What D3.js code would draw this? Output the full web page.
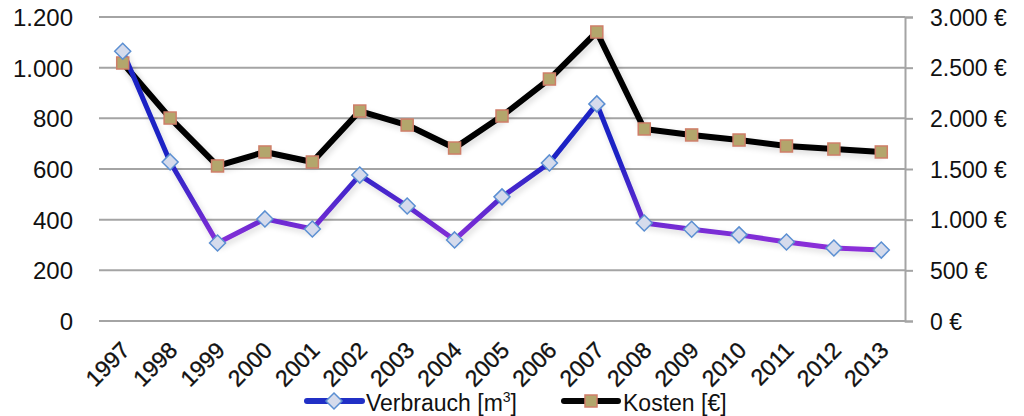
<!DOCTYPE html>
<head>
<meta charset="utf-8">
<style>
body { margin: 0; background: #fff; }
text { font-family: "Liberation Sans", Arial, sans-serif; fill: #111; }
.grid line { stroke: #a4a4a4; stroke-width: 2px; }
.xl text { stroke: #111; stroke-width: 0.35px; }
</style>
</head>
<body>
<script src="https://cdn.jsdelivr.net/npm/d3@7"></script>
<script>
var years = ["1997","1998","1999","2000","2001","2002","2003","2004","2005","2006","2007","2008","2009","2010","2011","2012","2013"];
var verbrauch = [1065, 628, 308, 403, 363, 576, 454, 320, 490, 624, 857, 387, 362, 340, 312, 288, 280];
var kosten = [2546, 2003, 1530, 1668, 1569, 2072, 1934, 1707, 2023, 2388, 2852, 1895, 1836, 1786, 1727, 1697, 1668];
var leftTicks = [0, 200, 400, 600, 800, 1000, 1200];
var rightTicks = [0, 500, 1000, 1500, 2000, 2500, 3000];

var width = 1024, height = 416;
var plotL = 99, plotR = 905, plotT = 17, plotB = 321;

var svg = d3.select("body").append("svg")
    .attr("width", width).attr("height", height);

var defs = svg.append("defs");
var x = d3.scaleBand().domain(years).range([plotL, plotR]);
var yL = d3.scaleLinear().domain([0, 1200]).range([plotB, plotT]);
var yR = d3.scaleLinear().domain([0, 3000]).range([plotB, plotT]);

var grad = defs.append("linearGradient").attr("id", "blueGrad")
    .attr("gradientUnits", "userSpaceOnUse")
    .attr("x1", 0).attr("x2", 0).attr("y1", yL(650)).attr("y2", yL(300));
grad.append("stop").attr("offset", "0%").attr("stop-color", "#1c22c4");
grad.append("stop").attr("offset", "100%").attr("stop-color", "#8a2fd8");

var shadow = defs.append("filter").attr("id", "shadow")
    .attr("x", "-5%").attr("y", "-20%").attr("width", "110%").attr("height", "140%");
shadow.append("feGaussianBlur").attr("in", "SourceAlpha").attr("stdDeviation", 3).attr("result", "b");
shadow.append("feOffset").attr("in", "b").attr("dx", 2).attr("dy", 3).attr("result", "o");
shadow.append("feComponentTransfer").attr("in", "o").attr("result", "s")
  .append("feFuncA").attr("type", "linear").attr("slope", 0.15);
var merge = shadow.append("feMerge");
merge.append("feMergeNode").attr("in", "s");
merge.append("feMergeNode").attr("in", "SourceGraphic");

// gridlines
svg.append("g").attr("class", "grid")
  .selectAll("line").data(leftTicks).enter().append("line")
  .attr("x1", plotL).attr("x2", plotR)
  .attr("y1", d => yL(d)).attr("y2", d => yL(d));

// right axis
var axR = svg.append("g").attr("transform", "translate(" + plotR + ",0)")
  .call(d3.axisRight(yR).tickValues(rightTicks).tickSize(8).tickPadding(17)
    .tickFormat(d => d3.format(",")(d).replace(/,/g, ".") + " €"));
axR.select(".domain").attr("stroke", "#a4a4a4").attr("stroke-width", 2);
axR.selectAll(".tick line").attr("stroke", "#a4a4a4").attr("stroke-width", 2);
axR.selectAll("text").style("font-size", "23px").attr("fill", "#111").attr("dy", "0.35em");

// left axis labels
var axL = svg.append("g").attr("transform", "translate(" + plotL + ",0)")
  .call(d3.axisLeft(yL).tickValues(leftTicks).tickSize(0).tickPadding(26)
    .tickFormat(d => d3.format(",")(d).replace(/,/g, ".")));
axL.select(".domain").remove();
axL.selectAll("text").style("font-size", "24px").attr("fill", "#111").attr("dy", "0.35em");

// x labels
var axX = svg.append("g").attr("class", "xl").attr("transform", "translate(0," + plotB + ")")
  .call(d3.axisBottom(x).tickSize(0));
axX.select(".domain").remove();
axX.selectAll("text").style("font-size", "23px").attr("fill", "#111")
  .attr("text-anchor", "end")
  .attr("transform", "translate(3,25) rotate(-45)")
  .attr("dy", "0.35em").attr("y", 0);

var cx = d => x(d) + x.bandwidth() / 2;

// Kosten line
var lineK = d3.line().x((d, i) => cx(years[i])).y(d => yR(d));
svg.append("path").datum(kosten).attr("d", lineK)
  .attr("fill", "none").attr("stroke", "#050505").attr("stroke-width", 6)
  .attr("stroke-linejoin", "round").attr("filter", "url(#shadow)");

// Verbrauch line
var lineV = d3.line().x((d, i) => cx(years[i])).y(d => yL(d));
svg.append("path").datum(verbrauch).attr("d", lineV)
  .attr("fill", "none").attr("stroke", "url(#blueGrad)").attr("stroke-width", 5)
  .attr("stroke-linejoin", "round").attr("filter", "url(#shadow)");

// square markers
svg.append("g").selectAll("rect").data(kosten).enter().append("rect")
  .attr("x", (d, i) => cx(years[i]) - 6).attr("y", d => yR(d) - 6)
  .attr("width", 12).attr("height", 12)
  .attr("fill", "#b3a66c").attr("stroke", "#cf7e68").attr("stroke-width", 1.5);

// diamond markers
var diamond = "M0,-8L8,0L0,8L-8,0Z";
svg.append("g").selectAll("path").data(verbrauch).enter().append("path")
  .attr("d", diamond)
  .attr("transform", (d, i) => "translate(" + cx(years[i]) + "," + yL(d) + ")")
  .attr("fill", "#d5dbec").attr("stroke", "#5b8fd2").attr("stroke-width", 1.5);

// legend
var ly = 401;
var leg = svg.append("g");
leg.append("line").attr("x1", 307).attr("x2", 362).attr("y1", ly).attr("y2", ly)
  .attr("stroke", "#2130c6").attr("stroke-width", 6).attr("stroke-linecap", "round");
leg.append("path").attr("d", diamond).attr("transform", "translate(334," + ly + ")")
  .attr("fill", "#d5dbec").attr("stroke", "#5b8fd2").attr("stroke-width", 1.5);
leg.append("text").attr("x", 366).attr("y", 411).style("font-size", "23px")
  .html('Verbrauch [m<tspan dy="-9" style="font-size:14px">3</tspan><tspan dy="9">]</tspan>');
leg.append("line").attr("x1", 564).attr("x2", 618).attr("y1", ly).attr("y2", ly)
  .attr("stroke", "#050505").attr("stroke-width", 6).attr("stroke-linecap", "round");
leg.append("rect").attr("x", 585).attr("y", ly - 6).attr("width", 12).attr("height", 12)
  .attr("fill", "#b3a66c").attr("stroke", "#cf7e68").attr("stroke-width", 1.5);
leg.append("text").attr("x", 623).attr("y", 411).style("font-size", "23px").text("Kosten [€]");
</script>
</body>
</html>
